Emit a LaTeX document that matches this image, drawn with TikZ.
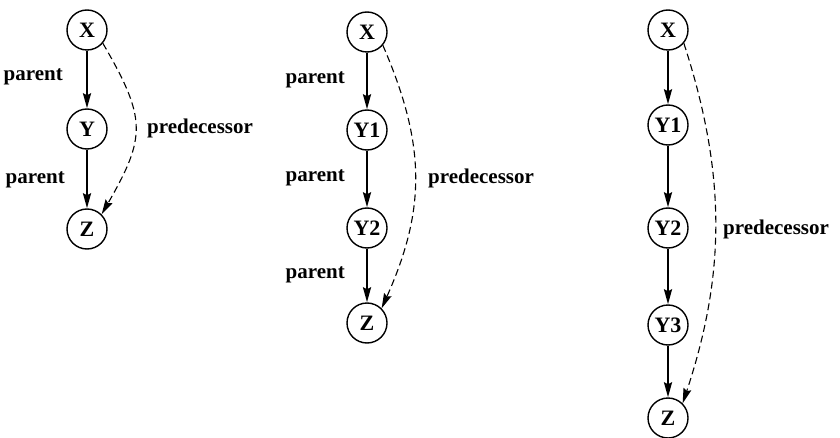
\documentclass[tikz,border=0pt]{standalone}
\usepackage{fontspec}
\setmainfont{Liberation Serif}
\usetikzlibrary{arrows.meta}
\begin{document}
\begin{tikzpicture}[x=1pt,y=1pt,
  vnode/.style={circle,draw,line width=1.4pt,minimum size=40pt,inner sep=0pt,
    font=\fontsize{22}{26}\selectfont\bfseries},
  lbl/.style={inner sep=0pt,font=\fontsize{21}{25}\selectfont\bfseries},
  par/.style={line width=2.2pt,-{Stealth[length=15pt,width=8pt,inset=2pt]}},
  pred/.style={line width=1.1pt,dash pattern=on 7pt off 4pt,-{Stealth[length=15pt,width=8pt,inset=2pt]}}]
\useasboundingbox (0,0) rectangle (840,437);
% diagram 1
\node[vnode] (a1) at (87,407) {X};
\node[vnode] (a2) at (87,308) {Y};
\node[vnode] (a3) at (87,208) {Z};
\draw[par] (a1) -- (a2);
\draw[par] (a2) -- (a3);
\draw[pred] (a1.-40) .. controls (147,318) and (146,300) .. (a3.45);
\node[lbl,anchor=east] (la1) at (63,360) {parent};
\node[lbl,anchor=east] (la2) at (65,257) {parent};
\node[lbl,anchor=west] (pa) at (147,309) {predecessor};
% diagram 2
\node[vnode] (b1) at (367,405) {X};
\node[vnode] (b2) at (367,307) {Y1};
\node[vnode] (b3) at (367,209) {Y2};
\node[vnode] (b4) at (367,114) {Z};
\draw[par] (b1) -- (b2);
\draw[par] (b2) -- (b3);
\draw[par] (b3) -- (b4);
\draw[pred] (b1.-40) .. controls (426,292) and (426,228) .. (b4.45);
\node[lbl,anchor=east] (lb1) at (345,357) {parent};
\node[lbl,anchor=east] (lb2) at (345,259) {parent};
\node[lbl,anchor=east] (lb3) at (345,162) {parent};
\node[lbl,anchor=west] (pb) at (428,259) {predecessor};
% diagram 3
\node[vnode] (c1) at (668,407) {X};
\node[vnode] (c2) at (668,312) {Y1};
\node[vnode] (c3) at (668,209) {Y2};
\node[vnode] (c4) at (668,112) {Y3};
\node[vnode] (c5) at (668,19) {Z};
\draw[par] (c1) -- (c2);
\draw[par] (c2) -- (c3);
\draw[par] (c3) -- (c4);
\draw[par] (c4) -- (c5);
\draw[pred] (c1.-40) .. controls (726,264) and (726,164) .. (c5.45);
\node[lbl,anchor=west] (pc) at (723,208) {predecessor};
\end{tikzpicture}
\end{document}
